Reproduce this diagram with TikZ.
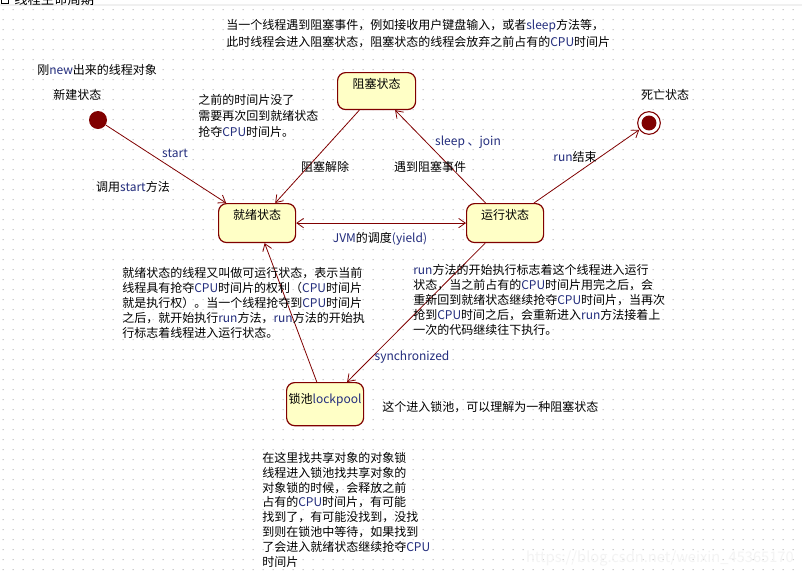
\documentclass[tikz,border=0pt]{standalone}
\usepackage{fontspec}
\setmainfont{Noto Sans CJK SC}
\usetikzlibrary{arrows.meta,calc}
\definecolor{dred}{RGB}{128,0,0}
\definecolor{sfill}{RGB}{255,255,198}
\definecolor{lat}{RGB}{35,45,125}
\definecolor{dotc}{RGB}{180,180,180}
\newcommand\ltn[1]{\textcolor{lat}{#1}}
\begin{document}
\begin{tikzpicture}[x=0.75pt,y=-0.75pt,
  every node/.style={inner sep=0pt, font=\fontsize{9}{11.25}\selectfont},
  state/.style={draw=dred, line width=0.9pt, fill=sfill, rounded corners=6pt, inner xsep=0pt, inner ysep=0pt, anchor=north west},
  tr/.style={draw=dred, line width=0.6pt, -{Straight Barb[length=5pt,width=7pt]}},
  note/.style={align=left, anchor=north west}]

\useasboundingbox (0,0) rectangle (802,576);
\fill[white] (0,0) rectangle (802,576);
\fill[dotc] \foreach \i in {0,...,79}{\foreach \j in {0,...,56}{(2.5+10*\i,9+10*\j) rectangle ++(1,1)}};

% header strip (cut off at the top edge, as in the reference)
\fill[gray!12] (0,4) rectangle (802,6);
\begin{scope}
\clip (0,0) rectangle (802,4.5);
\node[anchor=west] (hdr) at (14,-1) {\fontsize{10}{12}\selectfont 线程生命周期};
\draw (92,-6) -- (92,5);
\draw (1,-4) rectangle (8,3);
\end{scope}

% states
\node[state, text height=11.6pt, text depth=16.1pt, minimum width=58.5pt] (block) at (337,72) {阻塞状态};
\node[state, text height=11.6pt, text depth=17.6pt, minimum width=57.75pt] (ready) at (218,203) {就绪状态};
\node[state, text height=11.6pt, text depth=17.6pt, minimum width=57.75pt] (run) at (466,203) {运行状态};
\node[state, text height=15.4pt, text depth=16.9pt, minimum width=57.75pt] (lock) at (286,382) {锁池\ltn{lockpool}};

\node[circle, fill=dred, minimum size=13.5pt] (init) at (98,120) {};
\node[circle, draw=dred, line width=0.8pt, fill=white, minimum size=17pt] (final) at (649,123) {};
\fill[dred] (final.center) circle[radius=5.6pt];

% transitions
\draw[tr] (init) -- (ready);
\draw[tr] (block) -- (ready);
\draw[tr] (run) -- (block);
\draw[tr] (run) -- (final);
\draw[tr, {Straight Barb[length=5pt,width=7pt]}-{Straight Barb[length=5pt,width=7pt]}] (ready) -- (run);
\draw[tr] (lock) -- (ready);
\draw[tr] (run) -- (lock);

% labels
\node[note, font=\fontsize{9}{12.75}\selectfont] (topnote) at (226,19) {当一个线程遇到阻塞事件，例如接收用户键盘输入，或者\ltn{sleep}方法等，\\此时线程会进入阻塞状态，阻塞状态的线程会放弃之前占有的\ltn{CPU}时间片};
\node[anchor=west] (newnote) at (37,70) {刚\ltn{new}出来的线程对象};
\node[anchor=west] (newlbl) at (53,95) {新建状态};
\node[note, font=\fontsize{9}{12.2}\selectfont] (lostnote) at (198,94) {之前的时间片没了\\需要再次回到就绪状态\\抢夺\ltn{CPU}时间片。};
\node (deadlbl) at (665,95) {死亡状态};
\node (startlbl) at (175,153) {\ltn{start}};
\node (calllbl) at (133,187) {调用\ltn{start}方法};
\node (unblbl) at (325,167) {阻塞解除};
\node (evlbl) at (430,167) {遇到阻塞事件};
\node (sleeplbl) at (468,142) {\ltn{sleep 、join}};
\node (runendlbl) at (575,157) {\ltn{run}结束};
\node (jvmlbl) at (380,239) {\ltn{JVM}的调度\ltn{(yield)}};
\node[note] (readynote) at (122,267) {就绪状态的线程又叫做可运行状态，表示当前\\线程具有抢夺\ltn{CPU}时间片的权利（\ltn{CPU}时间片\\就是执行权）。当一个线程抢夺到\ltn{CPU}时间片\\之后，就开始执行\ltn{run}方法，\ltn{run}方法的开始执\\行标志着线程进入运行状态。};
\node[note] (runnote) at (413,264) {\ltn{run}方法的开始执行标志着这个线程进入运行\\状态，当之前占有的\ltn{CPU}时间片用完之后，会\\重新回到就绪状态继续抢夺\ltn{CPU}时间片，当再次\\抢到\ltn{CPU}时间之后，会重新进入\ltn{run}方法接着上\\一次的代码继续往下执行。};
\node (synlbl) at (412,357) {\ltn{synchronized}};
\node[anchor=west] (locknote1) at (382,407) {这个进入锁池，可以理解为一种阻塞状态};
\node[note, font=\fontsize{9}{11.1}\selectfont] (locknote2) at (262,452) {在这里找共享对象的对象锁\\线程进入锁池找共享对象的\\对象锁的时候，会释放之前\\占有的\ltn{CPU}时间片，有可能\\找到了，有可能没找到，没找\\到则在锁池中等待，如果找到\\了会进入就绪状态继续抢夺\ltn{CPU}\\时间片};
\node[anchor=east, text=gray!9, font=\fontsize{11}{13}\selectfont] (wm) at (794,558) {https://blog.csdn.net/weixin\_45365170};
\end{tikzpicture}
\end{document}
